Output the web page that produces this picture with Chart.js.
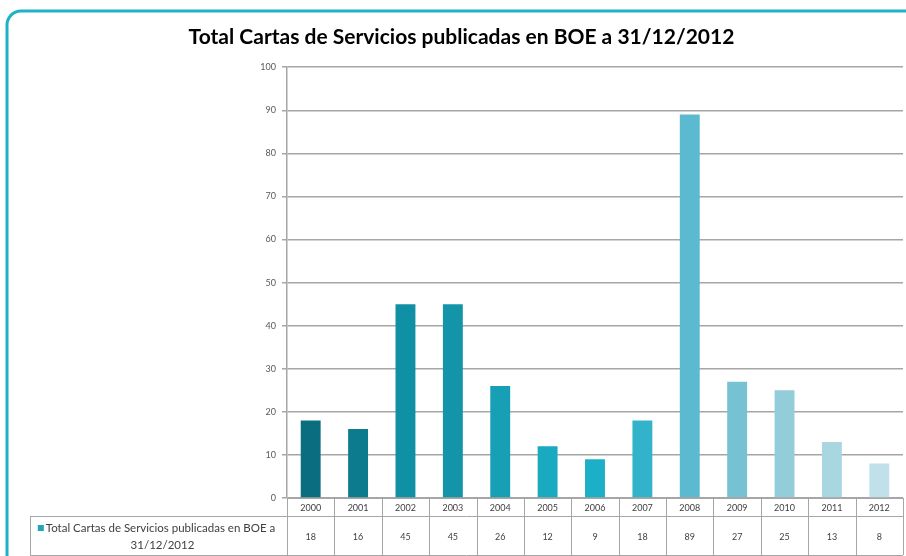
<!DOCTYPE html>
<html>
<head>
<meta charset="utf-8">
<script src="https://cdn.jsdelivr.net/npm/chart.js@4"></script>
<style>
  html, body { margin: 0; padding: 0; background: #ffffff; overflow: hidden; }
  #wrap { position: relative; width: 906px; height: 556px; }
</style>
</head>
<body>
<div id="wrap"><canvas id="c" width="906" height="556"></canvas></div>
<script>
const titleText = "Total Cartas de Servicios publicadas en BOE a 31/12/2012";
const seriesName = "Total Cartas de Servicios publicadas en BOE a 31/12/2012";
const seriesNameLines = ["Total Cartas de Servicios publicadas en BOE a", "31/12/2012"];
const years = ["2000","2001","2002","2003","2004","2005","2006","2007","2008","2009","2010","2011","2012"];
const values = [18, 16, 45, 45, 26, 12, 9, 18, 89, 27, 25, 13, 8];
const barColors = ["#0b6e80","#0d7b8e","#1090a4","#1394a8","#17a0b5","#19a9c0","#1cb0c8","#32b3cb","#5bbad0","#76c2d3","#93cdd9","#a9d7e1","#c0e1e9"];
const yTicks = [0,10,20,30,40,50,60,70,80,90,100];

const FONT = "Lato, 'Open Sans', sans-serif";

const framePlugin = {
  id: 'frame',
  beforeDraw(chart) {
    const ctx = chart.ctx;
    ctx.save();
    ctx.fillStyle = '#ffffff';
    ctx.fillRect(0, 0, chart.width, chart.height);
    ctx.strokeStyle = '#1fb2c6';
    ctx.lineWidth = 3;
    ctx.beginPath();
    ctx.moveTo(7, 700);
    ctx.lineTo(7, 25);
    ctx.arcTo(7, 11, 21, 11, 14);
    ctx.lineTo(1200, 11);
    ctx.stroke();
    ctx.restore();
  }
};

const tablePlugin = {
  id: 'dataTable',
  afterDraw(chart) {
    const ctx = chart.ctx;
    const xs = chart.scales.x;
    const area = chart.chartArea;
    const n = years.length;
    const catW = (area.right - area.left) / n;
    const top = area.bottom;
    const mid = top + 18;
    const bot = top + 57;
    const legendLeft = 30;
    ctx.save();
    ctx.strokeStyle = '#a6a6a6';
    ctx.lineWidth = 1;
    ctx.beginPath();
    ctx.moveTo(area.left, top + 0.5); ctx.lineTo(area.right, top + 0.5);
    ctx.moveTo(legendLeft, mid + 0.5); ctx.lineTo(area.right, mid + 0.5);
    ctx.moveTo(legendLeft, bot + 0.5); ctx.lineTo(area.right, bot + 0.5);
    for (let i = 0; i <= n; i++) {
      const x = Math.round(area.left + i * catW) + 0.5;
      ctx.moveTo(x, top); ctx.lineTo(x, bot);
    }
    ctx.moveTo(legendLeft + 0.5, mid); ctx.lineTo(legendLeft + 0.5, bot);
    ctx.stroke();

    ctx.fillStyle = '#404040';
    ctx.font = '9px ' + FONT;
    ctx.textAlign = 'center';
    ctx.textBaseline = 'middle';
    for (let i = 0; i < n; i++) {
      const x = xs.getPixelForValue(i);
      ctx.fillText(String(values[i]), x, mid + 21);
    }
    const cx = (legendLeft + area.left) / 2;
    ctx.font = '11.5px ' + FONT;
    const w1 = ctx.measureText(seriesNameLines[0]).width;
    const keySize = 6;
    const startX = cx - (w1 + keySize + 2) / 2 - 2;
    ctx.fillStyle = '#1fa5b8';
    ctx.fillRect(startX, mid + 9, keySize, keySize);
    ctx.fillStyle = '#404040';
    ctx.textAlign = 'left';
    ctx.fillText(seriesNameLines[0], startX + keySize + 2, mid + 12);
    ctx.textAlign = 'center';
    ctx.fillText(seriesNameLines[1], cx + 4, mid + 29);
    ctx.restore();
  }
};

new Chart(document.getElementById('c'), {
  type: 'bar',
  data: {
    labels: years,
    datasets: [{
      label: seriesName,
      data: values,
      backgroundColor: barColors,
      borderWidth: 0,
      categoryPercentage: 1.0,
      barPercentage: 0.42
    }]
  },
  options: {
    responsive: false,
    animation: false,
    devicePixelRatio: 1,
    layout: { padding: { left: 20, right: 3, top: 25, bottom: 0 } },
    plugins: {
      legend: { display: false },
      tooltip: { enabled: false },
      title: {
        display: true,
        text: titleText,
        color: '#000000',
        font: { family: FONT, size: 21, weight: 'bold' },
        padding: { top: 0, bottom: 17 }
      }
    },
    scales: {
      x: {
        grid: { display: false, drawTicks: false },
        border: { display: true, color: '#a6a6a6', width: 1 },
        ticks: { color: '#404040', font: { family: FONT, size: 9 }, padding: 5, maxRotation: 0, autoSkip: false },
        afterFit(scale) { scale.height = 58; }
      },
      y: {
        min: 0, max: 100,
        afterBuildTicks(scale) { scale.ticks = yTicks.map(v => ({ value: v })); },
        grid: { color: '#a6a6a6', lineWidth: 1.5, tickLength: 5, drawTicks: true },
        border: { display: true, color: '#a6a6a6', width: 1.5 },
        ticks: { color: '#595959', font: { family: FONT, size: 9 }, padding: 6 },
        afterFit(scale) { scale.width = 267; }
      }
    }
  },
  plugins: [framePlugin, tablePlugin]
});
</script>
</body>
</html>
